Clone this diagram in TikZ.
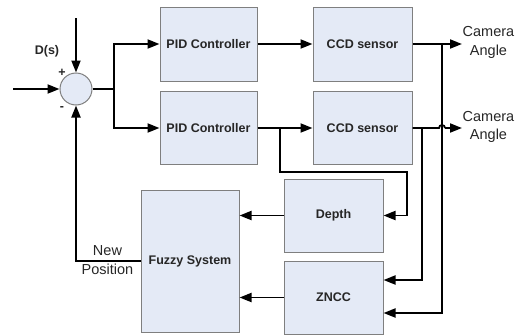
\documentclass[tikz,border=0pt]{standalone}
\usepackage{fontspec}
\setmainfont{Liberation Sans}
\usetikzlibrary{arrows.meta,calc}
\definecolor{boxfill}{HTML}{E4EAF6}
\definecolor{boxline}{HTML}{7F7F7F}
\definecolor{txt}{HTML}{262626}
\tikzset{
  blk/.style={draw=boxline, line width=1pt, fill=boxfill, text=txt, font=\fontsize{12.5}{15}\selectfont\bfseries, inner sep=0pt},
  wire/.style={line width=1.8pt, black},
  arr/.style={wire, -{Triangle[length=12pt,width=9pt]}},
  lbl/.style={text=txt, font=\fontsize{14.5}{18.5}\selectfont, align=center, inner sep=0pt},
  blbl/.style={text=txt, font=\fontsize{12.5}{15}\selectfont\bfseries, inner sep=0pt}
}
\begin{document}
\begin{tikzpicture}[x=1pt,y=-1pt]
\useasboundingbox (0,0) rectangle (523,335);
% blocks
\node[blk, minimum width=97pt, minimum height=74pt] (pid1) at (208.5,44) {PID Controller};
\node[blk, minimum width=97pt, minimum height=73pt] (pid2) at (208.5,128) {PID Controller};
\node[blk, minimum width=99pt, minimum height=74pt] (ccd1) at (362.5,44) {CCD sensor};
\node[blk, minimum width=99pt, minimum height=73pt] (ccd2) at (362.5,128) {CCD sensor};
\node[blk, minimum width=99pt, minimum height=73pt] (depth) at (333.5,215.5) {Depth};
\node[blk, minimum width=99pt, minimum height=73pt] (zncc) at (333.5,297.5) {ZNCC};
\node[blk, minimum width=98pt, minimum height=142pt] (fuzzy) at (190,261) {Fuzzy System};
\node[circle, draw=boxline, line width=1pt, fill=boxfill, minimum size=32pt, inner sep=0pt] (sum) at (76,89) {};
% labels
\node[blbl] (dlab) at (47,51) {D(s)};
\node[blbl] (plus) at (62,73) {+};
\node[blbl] (minus) at (62,109) {-};
\node[lbl] (cam1) at (488.5,42.5) {Camera\\Angle};
\node[lbl] (cam2) at (488.5,127) {Camera\\Angle};
\node[lbl] (newpos) at (107.5,260) {New\\Position};
% coordinates
\coordinate (in) at (13,89);
\coordinate (dtop) at (76,18);
\coordinate (split) at (114,89);
\coordinate (out1) at (462,44);
\coordinate (out2) at (462,128);
\coordinate (j1) at (442,44);
\coordinate (j2) at (422,128);
\coordinate (j3) at (280,128);
% wires
\draw[arr] (in) -- (sum.west);
\draw[arr] (dtop) -- (sum.north);
\draw[wire] (sum.east) -- (split);
\draw[arr] (split) |- (pid1.west);
\draw[arr] (split) |- (pid2.west);
\draw[arr] (pid1.east) -- (ccd1.west);
\draw[arr] (pid2.east) -- (ccd2.west);
\draw[arr] (ccd1.east) -- (out1);
\draw[wire] (ccd2.east) -- (439,128) arc[start angle=180, end angle=0, radius=3pt];
\draw[arr] (445,128) -- (out2);
\draw[arr] (j1) |- ($(zncc.east)+(0,15.5)$);
\draw[arr] (j2) |- ($(zncc.east)+(0,-17.5)$);
\draw[arr] (j3) -- (280,172) -- (407,172) |- (depth.east);
\draw[arr] (depth.west) -- (depth.west -| fuzzy.east);
\draw[arr] (zncc.west) -- (zncc.west -| fuzzy.east);
\draw[arr] (fuzzy.west) -| (sum.south);
\end{tikzpicture}
\end{document}
